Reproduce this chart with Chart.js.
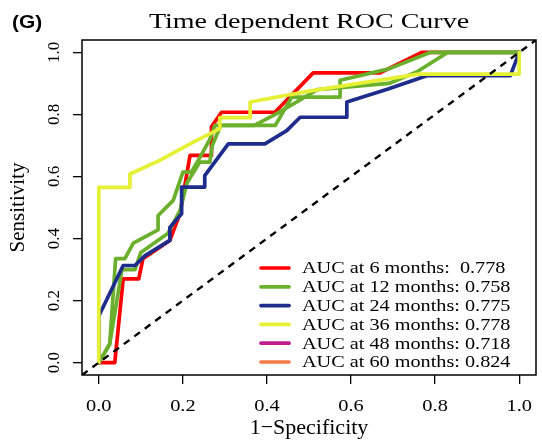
<!DOCTYPE html>
<html>
<head>
<meta charset="utf-8">
<script src="https://cdn.jsdelivr.net/npm/chart.js@4.4.0/dist/chart.umd.min.js"></script>
<style>
  html,body{margin:0;padding:0;background:#fff;}
  #wrap{width:542px;height:441px;position:relative;}
</style>
</head>
<body>
<div id="wrap"><canvas id="roc" width="542" height="441"></canvas></div>
<script>
// --- dados ---
const months = [6, 12, 24, 36, 48, 60];
const aucs = [0.778, 0.758, 0.775, 0.778, 0.718, 0.824];
const cores = ['#FF0000', '#6AB02C', '#1E2D8C', '#E6F035', '#C01E8F', '#F47A4A'];
const tickVals = [0, 0.2, 0.4, 0.6, 0.8, 1.0];

// 6 meses (vermelho)
const fpr6 = [0, 0.038, 0.058, 0.095, 0.105, 0.169, 0.193, 0.217, 0.268, 0.268, 0.292, 0.419, 0.51, 0.669, 0.768, 1];
const tpr6 = [0, 0, 0.27, 0.27, 0.335, 0.394, 0.48, 0.668, 0.668, 0.76, 0.807, 0.807, 0.934, 0.934, 1, 1];
// 12 meses (verde)
const fpr12 = [0, 0.026, 0.04, 0.062, 0.082, 0.141, 0.141, 0.177, 0.2, 0.22, 0.24, 0.264, 0.276, 0.37, 0.42, 0.47, 0.52, 0.69, 0.756, 0.83, 1];
const tpr12 = [0, 0.06, 0.335, 0.335, 0.385, 0.428, 0.474, 0.523, 0.614, 0.614, 0.66, 0.72, 0.765, 0.765, 0.8, 0.84, 0.88, 0.9, 0.937, 1, 1];
// segunda curva verde
const fpr12b = [0, 0.026, 0.055, 0.086, 0.1, 0.164, 0.193, 0.21, 0.24, 0.264, 0.27, 0.29, 0.42, 0.459, 0.574, 0.574, 0.69, 0.788, 1];
const tpr12b = [0, 0.06, 0.3, 0.3, 0.355, 0.416, 0.49, 0.58, 0.646, 0.646, 0.7, 0.765, 0.765, 0.856, 0.856, 0.91, 0.947, 1, 1];
// 24 meses (azul)
const fpr24 = [0, 0, 0.058, 0.086, 0.11, 0.169, 0.169, 0.197, 0.197, 0.252, 0.252, 0.308, 0.395, 0.447, 0.479, 0.59, 0.59, 0.69, 0.78, 0.979, 1];
const tpr24 = [0, 0.15, 0.313, 0.313, 0.345, 0.394, 0.436, 0.48, 0.566, 0.566, 0.603, 0.705, 0.705, 0.748, 0.791, 0.791, 0.84, 0.883, 0.925, 0.925, 1];
// 36 meses (amarelo)
const fpr36 = [0, 0, 0.074, 0.074, 0.145, 0.217, 0.288, 0.288, 0.36, 0.36, 0.5, 0.76, 1, 1];
const tpr36 = [0, 0.565, 0.565, 0.608, 0.652, 0.705, 0.754, 0.79, 0.79, 0.84, 0.875, 0.93, 0.93, 1];

function pts(xs, ys){ return xs.map((x,i)=>({x:x, y:ys[i]})); }
function rotulo(i){
  return 'AUC at ' + months[i] + ' months: ' + (months[i] < 10 ? ' ' : '') + aucs[i].toFixed(3);
}

const serif = "'Liberation Serif', 'Times New Roman', serif";
const espessura = 3.7;

function curva(i, xs, ys, ordem, comLegenda){
  return {
    label: comLegenda ? rotulo(i) : '',
    data: xs ? pts(xs, ys) : [],
    borderColor: cores[i],
    backgroundColor: cores[i],
    borderWidth: espessura,
    showLine: true, fill: false, tension: 0,
    pointRadius: 0, pointHoverRadius: 0,
    borderJoinStyle: 'round', borderCapStyle: 'round',
    order: ordem
  };
}

// texto esticado na horizontal, como na figura original
function textoLargo(ctx, txt, x, y, sx){
  ctx.save();
  ctx.translate(x, y);
  ctx.scale(sx, 1);
  ctx.fillText(txt, 0, 0);
  ctx.restore();
}

// moldura, título, rótulos do eixo x e legenda desenhados à mão (estilo R)
const extras = {
  id: 'extras',
  afterDatasetsDraw(chart){
    const {ctx, chartArea: a} = chart;
    ctx.save();
    ctx.strokeStyle = '#000';
    ctx.lineWidth = 1.5;
    ctx.strokeRect(a.left, a.top, a.right - a.left, a.bottom - a.top);
    // legenda
    ctx.font = '17px ' + serif;
    ctx.textBaseline = 'middle';
    ctx.textAlign = 'left';
    let y0 = 268, dy = 18.8;
    chart.data.datasets.filter(d=>d.label).forEach((d,k)=>{
      let y = y0 + k*dy;
      ctx.strokeStyle = d.borderColor;
      ctx.lineWidth = espessura;
      ctx.lineCap = 'round';
      ctx.beginPath(); ctx.moveTo(261, y); ctx.lineTo(289, y); ctx.stroke();
      ctx.fillStyle = '#000';
      textoLargo(ctx, d.label, 302, y + 1, 1.19);
    });
    // rótulos do eixo x
    const sx = chart.scales.x;
    ctx.font = '17px ' + serif;
    ctx.textAlign = 'center';
    sx.ticks.forEach(t=>{
      textoLargo(ctx, t.value.toFixed(1), sx.getPixelForValue(t.value), 407, 1.2);
    });
    // título
    ctx.fillStyle = '#000';
    ctx.textAlign = 'center';
    ctx.textBaseline = 'alphabetic';
    ctx.font = '20px ' + serif;
    textoLargo(ctx, 'Time dependent ROC Curve', (a.left + a.right)/2, 28, 1.4);
    ctx.textAlign = 'left';
    ctx.font = "bold 19px 'Liberation Sans', Arial, sans-serif";
    textoLargo(ctx, '(G)', 12, 28, 1.1);
    ctx.restore();
  }
};

const eixoX = {
  type: 'linear', min: -0.04, max: 1.04,
  afterBuildTicks: s => { s.ticks = tickVals.map(v=>({value:v})); },
  afterFit: s => { s.height = 66; },
  grid: {drawOnChartArea: false, drawTicks: true, tickLength: 9, color: '#000', lineWidth: 1.3},
  border: {display: false},
  ticks: {display: false},
  title: {display: true, text: '1\u2212Specificity', color: '#000',
          font: {family: serif, size: 22}, padding: {top: 0, bottom: 0}}
};
const eixoY = {
  type: 'linear', min: -0.04, max: 1.04,
  afterBuildTicks: s => { s.ticks = tickVals.map(v=>({value:v})); },
  afterFit: s => { s.width = 82; },
  grid: {drawOnChartArea: false, drawTicks: true, tickLength: 9, color: '#000', lineWidth: 1.3},
  border: {display: false},
  ticks: {color: '#000', font: {family: serif, size: 17}, padding: 8, minRotation: 90, maxRotation: 90,
          crossAlign: 'center', callback: v => v.toFixed(1)},
  title: {display: true, text: 'Sensitivity', color: '#000',
          font: {family: serif, size: 21}, padding: {top: 6, bottom: 0}}
};

new Chart(document.getElementById('roc').getContext('2d'), {
  type: 'scatter',
  data: {
    datasets: [
      {label: '', data: [{x:-0.04,y:-0.04},{x:1.04,y:1.04}], borderColor: '#000', borderWidth: 2.4,
       borderDash: [7,6], showLine: true, pointRadius: 0, fill: false, order: 0},
      curva(0, fpr6, tpr6, 6, true),
      curva(1, fpr12, tpr12, 4, true),
      curva(2, fpr24, tpr24, 2, true),
      curva(3, fpr36, tpr36, 1, true),
      curva(4, null, null, 7, true),
      curva(5, null, null, 8, true),
      curva(1, fpr12b, tpr12b, 3, false)
    ]
  },
  options: {
    responsive: false, animation: false, devicePixelRatio: 1,
    layout: {padding: {top: 40, right: 6, left: 0, bottom: 0}},
    plugins: {legend: {display: false}, tooltip: {enabled: false}, title: {display: false}},
    scales: {x: eixoX, y: eixoY}
  },
  plugins: [extras]
});
</script>
</body>
</html>
